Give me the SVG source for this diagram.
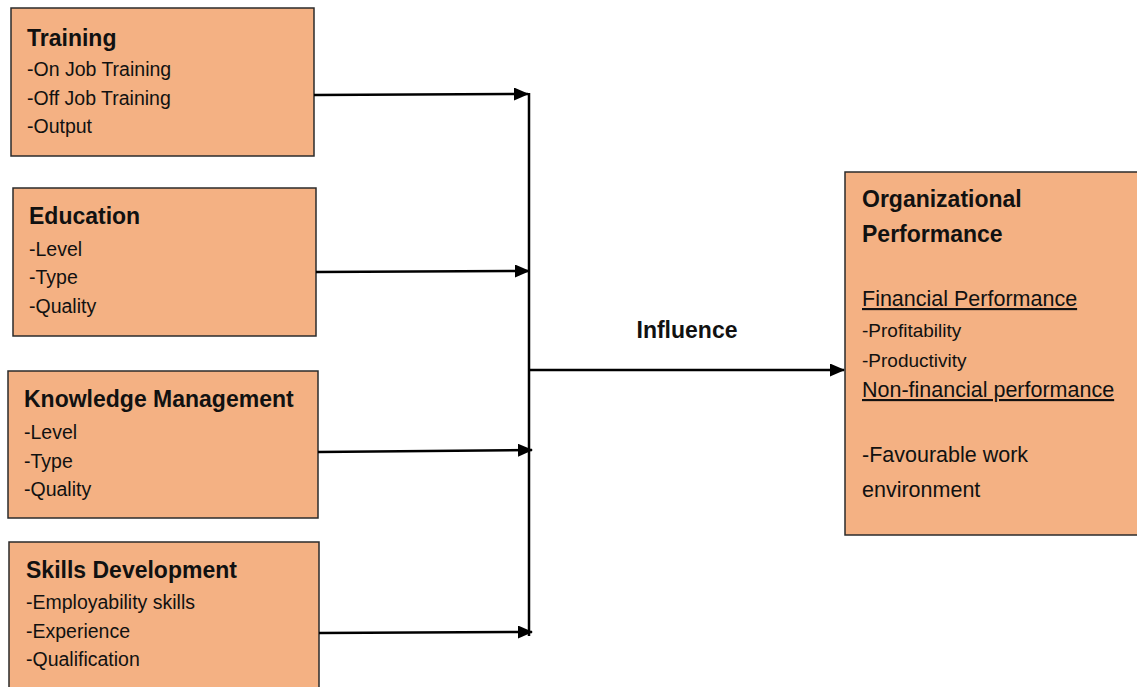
<svg xmlns="http://www.w3.org/2000/svg" width="1137" height="687" viewBox="0 0 1137 687">
<style>
.box{fill:#F4B183;stroke:#2b2b2b;stroke-width:1.5}
.h{font-family:"Liberation Sans",Arial,sans-serif;font-weight:bold;font-size:23px;fill:#111}
.t{font-family:"Liberation Sans",Arial,sans-serif;font-size:19.5px;fill:#111}
.s{font-family:"Liberation Sans",Arial,sans-serif;font-size:19px;fill:#111}
.u{font-family:"Liberation Sans",Arial,sans-serif;font-size:21.5px;fill:#111}
.ul{text-decoration:underline}
.c{fill:none;stroke:#000;stroke-width:2.5}
</style>
<defs>
<marker id="ah" markerWidth="15" markerHeight="13" refX="14" refY="6.5" orient="auto" markerUnits="userSpaceOnUse">
<path d="M0,0 L15,6.5 L0,13 Z" fill="#000"/>
</marker>
</defs>
<rect width="1137" height="687" fill="#fff"/>
<g id="training">
<rect class="box" x="11" y="8" width="303" height="148"/>
<text class="h" x="27" y="46">Training</text>
<text class="t" x="27" y="76">-On Job Training</text>
<text class="t" x="27" y="105">-Off Job Training</text>
<text class="t" x="27" y="133">-Output</text>
</g>
<g id="education">
<rect class="box" x="13" y="188" width="303" height="148"/>
<text class="h" x="29" y="224">Education</text>
<text class="t" x="29" y="256">-Level</text>
<text class="t" x="29" y="284">-Type</text>
<text class="t" x="29" y="313">-Quality</text>
</g>
<g id="knowledge">
<rect class="box" x="8" y="371" width="310" height="147"/>
<text class="h" x="24" y="407">Knowledge Management</text>
<text class="t" x="24" y="439">-Level</text>
<text class="t" x="24" y="468">-Type</text>
<text class="t" x="24" y="496">-Quality</text>
</g>
<g id="skills">
<rect class="box" x="9" y="542" width="310" height="150"/>
<text class="h" x="26" y="578">Skills Development</text>
<text class="t" x="26" y="609">-Employability skills</text>
<text class="t" x="26" y="638">-Experience</text>
<text class="t" x="26" y="666">-Qualification</text>
</g>
<g id="performance">
<rect class="box" x="845" y="172" width="296" height="363"/>
<text class="h" x="862" y="207">Organizational</text>
<text class="h" x="862" y="242">Performance</text>
<text class="u ul" x="862" y="306">Financial Performance</text>
<text class="s" x="862" y="337">-Profitability</text>
<text class="s" x="862" y="367">-Productivity</text>
<text class="u ul" x="862" y="397">Non-financial performance</text>
<text class="u" x="862" y="462">-Favourable work</text>
<text class="u" x="862" y="497">environment</text>
</g>
<g id="connectors">
<line class="c" x1="529" y1="93" x2="529" y2="636"/>
<line class="c" x1="314" y1="95" x2="528" y2="94" marker-end="url(#ah)"/>
<line class="c" x1="316" y1="272" x2="529" y2="271" marker-end="url(#ah)"/>
<line class="c" x1="318" y1="452" x2="532" y2="450" marker-end="url(#ah)"/>
<line class="c" x1="319" y1="633" x2="532" y2="632" marker-end="url(#ah)"/>
<line class="c" x1="530" y1="370" x2="844" y2="370" marker-end="url(#ah)"/>
<text class="h" x="687" y="338" text-anchor="middle">Influence</text>
</g>
</svg>
